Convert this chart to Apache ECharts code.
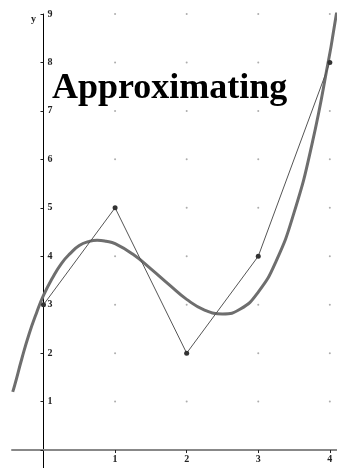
<!DOCTYPE html>
<html><head><meta charset="utf-8">
<script src="https://cdn.jsdelivr.net/npm/echarts@6/dist/echarts.min.js"></script>
<style>html,body{margin:0;padding:0;background:#fff}#c{width:337px;height:468px}</style>
</head><body><div id="c"></div>
<script>
var pointX = [0, 1, 2, 3, 4];
var pointY = [3, 5, 2, 4, 8];
var curveX = [-0.43, -0.4, -0.3, -0.2, -0.1, 0, 0.125, 0.25, 0.375, 0.5, 0.625, 0.75, 0.875, 1, 1.25, 1.5, 1.75, 2, 2.25, 2.5, 2.75, 3, 3.25, 3.5, 3.75, 4, 4.05, 4.1];
var curveY = [1.2, 1.35, 1.9, 2.4, 2.82, 3.19, 3.55, 3.85, 4.06, 4.22, 4.3, 4.33, 4.31, 4.26, 4.04, 3.74, 3.42, 3.11, 2.89, 2.81, 2.91, 3.26, 3.9, 4.9, 6.31, 8.19, 8.63, 9.08];
var xTicks = [1, 2, 3, 4];
var yTicks = [1, 2, 3, 4, 5, 6, 7, 8, 9];
var titleText = 'Approximating';

var dots = [];
xTicks.forEach(function (x) { yTicks.forEach(function (y) { dots.push([x, y]); }); });

var W = 337, H = 468;
var xMin = -0.44, xMax = 4.1;
var gL = 12, gT = 14, gB = -30.5;
var xUnit = (W - gL) / (xMax - xMin);
var yUnit = (H - gT - gB) / 10;

var chart = echarts.init(document.getElementById('c'), null, {renderer: 'canvas'});
chart.setOption({
  animation: false,
  backgroundColor: '#fff',
  title: {
    text: titleText, left: 47, top: 66,
    textStyle: {fontFamily: 'Liberation Serif', fontWeight: 'bold', fontSize: 36, color: '#000'}
  },
  graphic: [{type: 'text', left: 31, top: 14, style: {text: 'y', font: 'bold 10px "Liberation Serif"', fill: '#222'}}],
  grid: {left: gL, right: 0, top: gT, bottom: gB, containLabel: false, outerBoundsMode: 'none'},
  xAxis: {
    type: 'value', min: xMin, max: xMax, position: 'bottom', offset: -yUnit,
    axisLine: {onZero: false, lineStyle: {color: '#888', width: 2}},
    axisTick: {show: true, inside: false, length: 3, customValues: xTicks, lineStyle: {color: '#222', width: 1}},
    axisLabel: {margin: 4, fontSize: 10, fontWeight: 'bold', fontFamily: 'Liberation Serif', color: '#222',
      customValues: xTicks},
    splitLine: {show: false}
  },
  yAxis: {
    type: 'value', min: -1, max: 9, interval: 1, position: 'left', offset: xMin * xUnit,
    axisLine: {onZero: false, lineStyle: {color: '#000', width: 1}},
    axisTick: {show: true, length: 3, lineStyle: {color: '#222'}},
    axisLabel: {inside: true, margin: 4, fontSize: 10, fontWeight: 'bold', fontFamily: 'Liberation Serif', color: '#222',
      formatter: function (v) { return yTicks.indexOf(v) >= 0 ? String(v) : ''; }},
    splitLine: {show: false}
  },
  series: [
    {type: 'scatter', data: dots, symbolSize: 2, itemStyle: {color: '#999'}, silent: true, z: 1},
    {type: 'line', data: curveX.map(function (x, i) { return [x, curveY[i]]; }), smooth: true, showSymbol: false,
      lineStyle: {color: '#6e6e6e', width: 3}, z: 2},
    {type: 'line', data: pointX.map(function (x, i) { return [x, pointY[i]]; }), showSymbol: true, symbol: 'circle', symbolSize: 5,
      lineStyle: {color: '#555', width: 1}, itemStyle: {color: '#333'}, z: 3}
  ]
});
</script></body></html>
